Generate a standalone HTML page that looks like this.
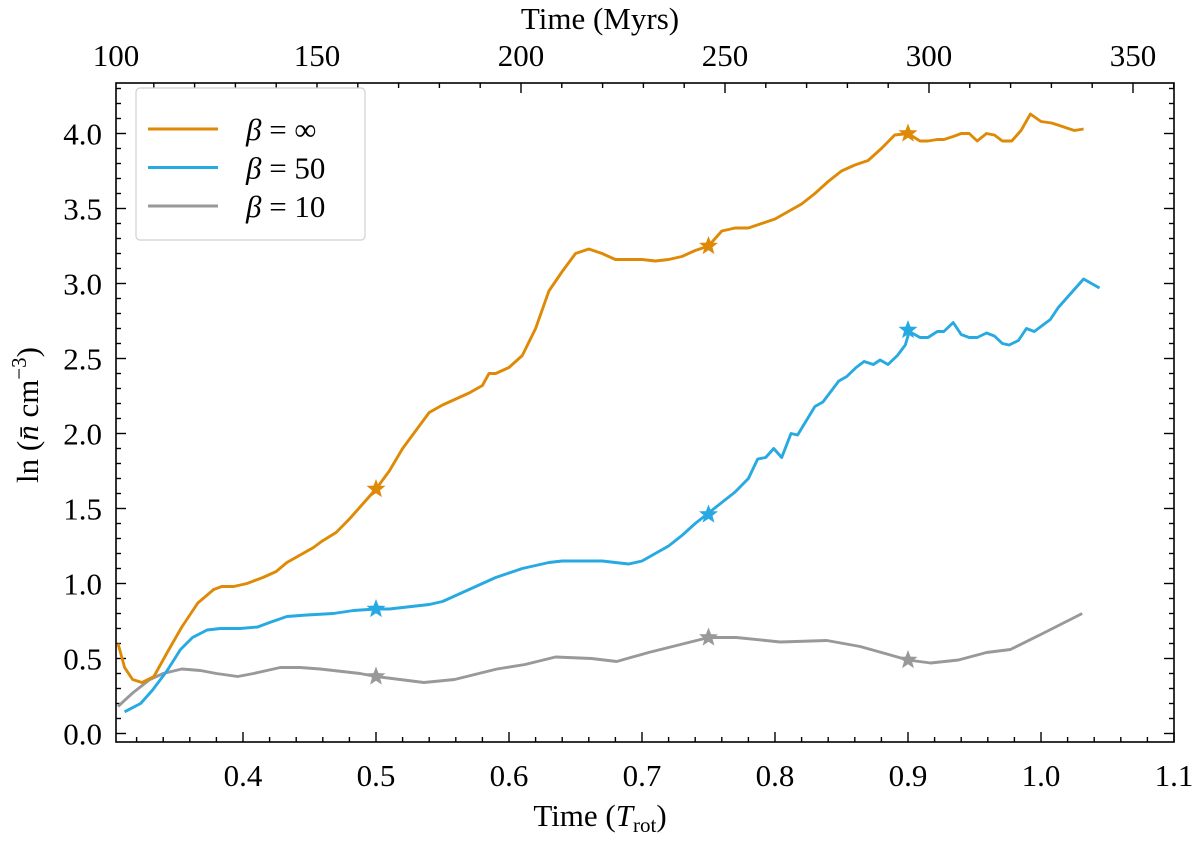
<!DOCTYPE html>
<html><head><meta charset="utf-8"><style>
body{margin:0;background:#fff;}
svg text{font-family:"Liberation Serif","DejaVu Serif",serif;fill:#000;}
</style></head><body>
<svg id="chart" width="1200" height="836" xmlns="http://www.w3.org/2000/svg">
<g id="plot"></g>
</svg>
<script>
const orangeT=[0.306,0.311,0.317,0.324,0.333,0.343,0.354,0.366,0.378,0.384,0.393,0.403,0.415,0.425,0.433,0.443,0.453,0.459,0.47,0.48,0.49,0.50,0.51,0.52,0.53,0.54,0.55,0.56,0.57,0.58,0.585,0.59,0.60,0.61,0.62,0.63,0.64,0.65,0.66,0.67,0.68,0.69,0.70,0.71,0.72,0.73,0.74,0.75,0.76,0.77,0.78,0.79,0.80,0.81,0.82,0.83,0.84,0.85,0.86,0.87,0.88,0.89,0.90,0.909,0.915,0.922,0.927,0.934,0.940,0.946,0.952,0.959,0.965,0.971,0.978,0.985,0.992,1.000,1.008,1.015,1.025,1.032];
const orangeV=[0.60,0.44,0.36,0.34,0.38,0.54,0.71,0.87,0.96,0.98,0.98,1.00,1.04,1.08,1.14,1.19,1.24,1.28,1.34,1.43,1.53,1.63,1.75,1.90,2.02,2.14,2.19,2.23,2.27,2.32,2.40,2.40,2.44,2.52,2.70,2.95,3.08,3.20,3.23,3.20,3.16,3.16,3.16,3.15,3.16,3.18,3.22,3.25,3.35,3.37,3.37,3.40,3.43,3.48,3.53,3.60,3.68,3.75,3.79,3.82,3.90,3.99,4.00,3.95,3.95,3.96,3.96,3.98,4.00,4.00,3.95,4.00,3.99,3.95,3.95,4.02,4.13,4.08,4.07,4.05,4.02,4.03];
const blueT=[0.311,0.323,0.332,0.343,0.353,0.362,0.373,0.383,0.398,0.411,0.420,0.433,0.448,0.468,0.483,0.50,0.51,0.52,0.53,0.54,0.55,0.56,0.57,0.58,0.59,0.60,0.61,0.62,0.63,0.64,0.65,0.66,0.67,0.68,0.69,0.70,0.71,0.72,0.73,0.74,0.75,0.76,0.77,0.780,0.787,0.793,0.799,0.805,0.812,0.817,0.830,0.836,0.848,0.854,0.861,0.867,0.874,0.879,0.885,0.892,0.898,0.901,0.909,0.915,0.922,0.927,0.934,0.940,0.946,0.952,0.959,0.965,0.971,0.976,0.983,0.989,0.995,1.001,1.007,1.013,1.032,1.038,1.044];
const blueV=[0.145,0.20,0.29,0.42,0.56,0.64,0.69,0.70,0.70,0.71,0.74,0.78,0.79,0.80,0.82,0.83,0.83,0.84,0.85,0.86,0.88,0.92,0.96,1.00,1.04,1.07,1.10,1.12,1.14,1.15,1.15,1.15,1.15,1.14,1.13,1.15,1.20,1.25,1.32,1.40,1.47,1.54,1.61,1.70,1.83,1.84,1.90,1.84,2.00,1.99,2.18,2.21,2.35,2.38,2.44,2.48,2.46,2.49,2.46,2.52,2.59,2.68,2.64,2.64,2.68,2.68,2.74,2.66,2.64,2.64,2.67,2.65,2.60,2.59,2.62,2.70,2.68,2.72,2.76,2.84,3.03,3.00,2.97];
const grayT=[0.306,0.317,0.330,0.340,0.354,0.368,0.380,0.396,0.408,0.418,0.428,0.443,0.458,0.478,0.488,0.50,0.536,0.559,0.591,0.612,0.635,0.662,0.681,0.705,0.75,0.771,0.804,0.839,0.864,0.90,0.917,0.938,0.959,0.977,1.002,1.031];
const grayV=[0.18,0.27,0.36,0.40,0.43,0.42,0.40,0.38,0.40,0.42,0.44,0.44,0.43,0.41,0.40,0.38,0.34,0.36,0.43,0.46,0.51,0.50,0.48,0.54,0.64,0.64,0.61,0.62,0.58,0.49,0.47,0.49,0.54,0.56,0.67,0.80];
const starT=[0.5,0.75,0.9];
const orangeStars=[1.63,3.25,4.00];
const blueStars=[0.83,1.46,2.69];
const grayStars=[0.38,0.64,0.49];
const xTicks=[0.4,0.5,0.6,0.7,0.8,0.9,1.0,1.1];
const yTicks=[0.0,0.5,1.0,1.5,2.0,2.5,3.0,3.5,4.0];
const topTicks=[100,150,200,250,300,350];

const L=116,R=1174,T=83,B=742;
const X=t=>243+(t-0.4)*1330;
const Y=v=>733.5-v*150;
const M=m=>929+(m-300)*4.08;
const NS="http://www.w3.org/2000/svg";
const g=document.getElementById('plot');
function mk(tag,attrs,parent){const e=document.createElementNS(NS,tag);for(const k in attrs)e.setAttribute(k,attrs[k]);(parent||g).appendChild(e);return e;}
function txt(s,x,y,anchor,size){const e=mk('text',{x:x,y:y,'text-anchor':anchor,'font-size':size});e.textContent=s;return e;}

const fr=mk('rect',{x:L,y:T,width:R-L,height:B-T,fill:'none',stroke:'#000','stroke-width':1.6});



for(let i=0;i<=40;i++){const t=+(0.3+i*0.02).toFixed(2);const x=X(t);if(x<L+1||x>R+1)continue;
 const major=Math.abs(t*10-Math.round(t*10))<1e-6;const len=major?10:5;
 mk('line',{x1:x,x2:x,y1:B,y2:B-len,stroke:'#000','stroke-width':1.4});}
xTicks.forEach(t=>{const e=txt(t.toFixed(1),X(t),786,'middle',31);
 
 });
for(let m=100;m<=360;m+=10){const x=M(m);if(x<L||x>R+1)continue;const len=(m%50===0)?10:5;
 mk('line',{x1:x,x2:x,y1:T,y2:T+len,stroke:'#000','stroke-width':1.4});}
topTicks.forEach(m=>{const e=txt(String(m),m===100?L:M(m),66,'middle',31);
 
 });
for(let i=0;i<=43;i++){const v=i*0.1;const y=Y(v);if(y<T)continue;const major=i%5===0;const len=major?10:5;
 mk('line',{x1:L,x2:L+len,y1:y,y2:y,stroke:'#000','stroke-width':1.4});
 mk('line',{x1:R,x2:R-len,y1:y,y2:y,stroke:'#000','stroke-width':1.4});}
yTicks.forEach(v=>{const e=txt(v.toFixed(1),102,Y(v)+11,'end',31);
 
 });

let e=txt('Time (Myrs)',600,29,'middle',31);


e=mk('text',{x:600,y:826,'text-anchor':'middle','font-size':31});
e.innerHTML='Time (<tspan font-style="italic">T</tspan><tspan font-size="21" dy="6">rot</tspan><tspan dy="-6">)</tspan>';


e=mk('text',{x:0,y:0,'text-anchor':'middle','font-size':31,transform:'translate(38,415) rotate(-90)'});
e.innerHTML='ln (<tspan font-style="italic">n̄</tspan> cm<tspan font-size="21" dy="-12">−3</tspan><tspan dy="12">)</tspan>';



const cols={o:'#df8a07',b:'#27a9e1',g:'#999999'};
function line(ts,vs,col,name){const d=ts.map((t,i)=>(i?'L':'M')+X(t).toFixed(1)+','+Y(vs[i]).toFixed(1)).join('');
 const p=mk('path',{d:d,fill:'none',stroke:col,'stroke-width':2.9,'stroke-linejoin':'round'});
 
 }
function star(cx,cy,r,col,name){let pts=[];for(let k=0;k<10;k++){const a=-Math.PI/2+k*Math.PI/5;const rr=k%2?r*0.42:r;pts.push((cx+rr*Math.cos(a)).toFixed(1)+','+(cy+rr*Math.sin(a)).toFixed(1));}
 const p=mk('polygon',{points:pts.join(' '),fill:col});
 
 }
line(grayT,grayV,cols.g,'series-beta-10');
line(blueT,blueV,cols.b,'series-beta-50');
line(orangeT,orangeV,cols.o,'series-beta-inf');
starT.forEach((t,i)=>{star(X(t),Y(grayStars[i]),10,cols.g,'marker-beta-10');
 star(X(t),Y(blueStars[i]),10,cols.b,'marker-beta-50');
 star(X(t),Y(orangeStars[i]),10,cols.o,'marker-beta-inf');});

const lg=mk('rect',{x:136,y:88,width:229,height:152,rx:4,fill:'#fff',stroke:'#d0d0d0','stroke-width':1.2});


const legItems=[['∞',cols.o,'legend-entry-beta-inf'],['50',cols.b,'legend-entry-beta-50'],['10',cols.g,'legend-entry-beta-10']];
legItems.forEach((it,i)=>{const y=129+i*38.5;
 const l=mk('line',{x1:148,x2:218,y1:y,y2:y,stroke:it[1],'stroke-width':2.9});
 
 
 const t=mk('text',{x:246,y:y+11,'font-size':31});
 t.innerHTML='<tspan font-style="italic">β</tspan> = '+it[0];
 
 });
</script>
</body></html>
